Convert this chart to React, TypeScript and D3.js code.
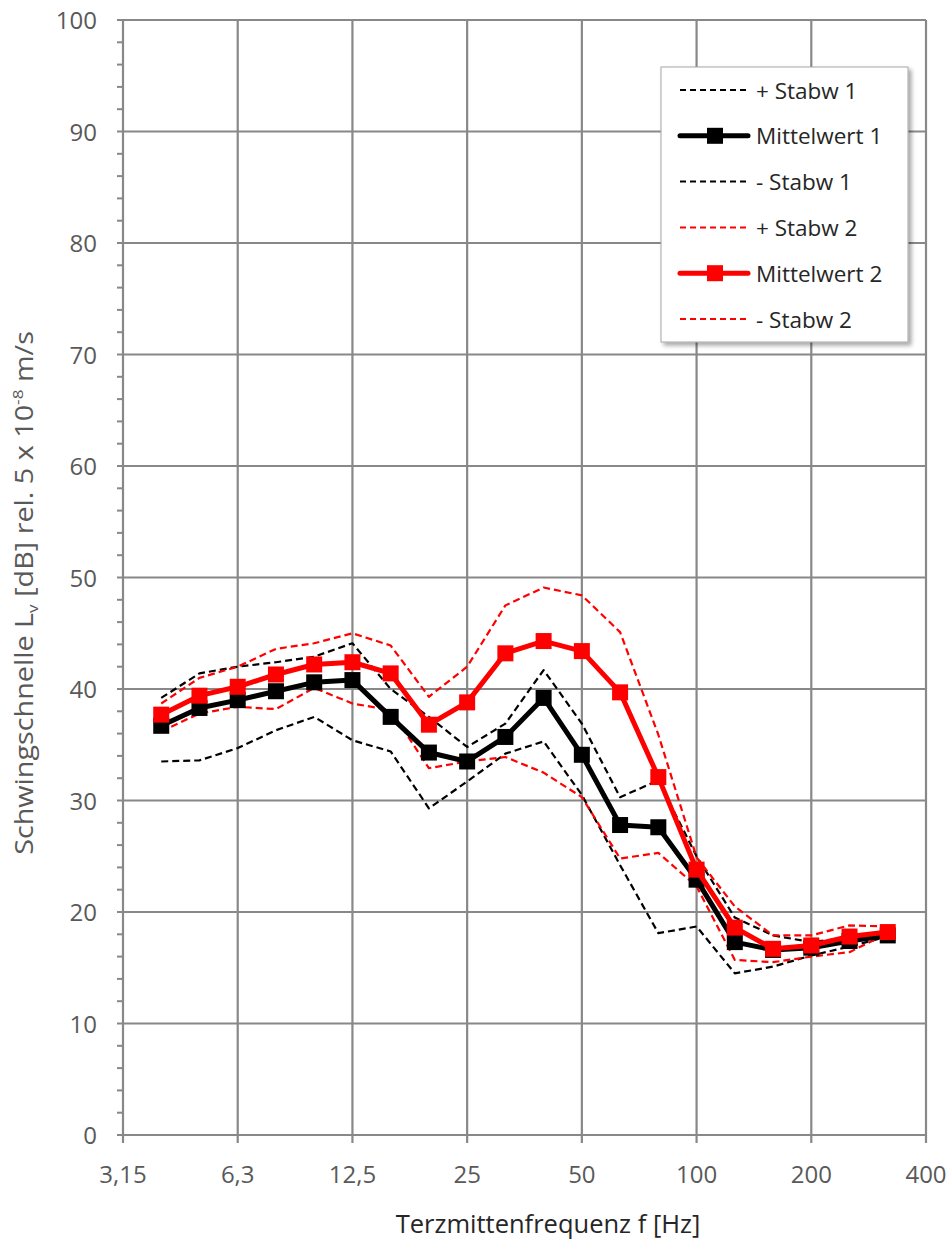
import React from "react";
import * as d3 from "d3";

const categories = ["3,15","4","5","6,3","8","10","12,5","16","20","25","31,5","40","50","63","80","100","125","160","200","250","315","400"];
const dataCategories = ["4","5","6,3","8","10","12,5","16","20","25","31,5","40","50","63","80","100","125","160","200","250","315"];
const tickLabels = ["3,15","6,3","12,5","25","50","100","200","400"];
const yTicks = [0,10,20,30,40,50,60,70,80,90,100];

const plusStabw1 = [39.2,41.4,42.0,42.4,42.9,44.1,40.0,37.5,34.8,36.9,41.7,36.9,30.3,31.8,25.0,19.5,17.9,17.3,17.7,18.1];
const mittelwert1 = [36.7,38.3,39.0,39.8,40.6,40.8,37.5,34.3,33.5,35.7,39.2,34.1,27.8,27.6,22.9,17.3,16.6,16.8,17.4,17.9];
const minusStabw1 = [33.5,33.6,34.7,36.3,37.5,35.4,34.4,29.3,31.7,34.2,35.3,30.5,24.2,18.1,18.7,14.5,15.1,16.1,16.9,17.8];
const plusStabw2 = [38.7,41.0,42.0,43.6,44.1,45.0,43.9,39.3,42.0,47.5,49.1,48.4,45.1,35.9,24.9,20.5,17.9,17.9,18.8,18.7];
const mittelwert2 = [37.7,39.4,40.2,41.3,42.2,42.4,41.4,36.8,38.8,43.2,44.3,43.4,39.7,32.1,23.8,18.6,16.7,17.0,17.8,18.2];
const minusStabw2 = [36.2,37.8,38.4,38.2,40.1,38.7,38.1,32.9,33.5,33.9,32.5,30.3,24.8,25.3,22.3,15.7,15.5,16.0,16.4,18.1];

const seriesNames = ["+ Stabw 1","Mittelwert 1","- Stabw 1","+ Stabw 2","Mittelwert 2","- Stabw 2"];
const seriesValues = [plusStabw1, mittelwert1, minusStabw1, plusStabw2, mittelwert2, minusStabw2];
const seriesColors = ["#000000","#000000","#000000","#ff0000","#ff0000","#ff0000"];
const seriesDashed = [true,false,true,true,false,true];

const W = 948, H = 1241;
const left = 123, right = 926, top = 20, bottom = 1135;
const FONT = "'Open Sans', 'Noto Sans', sans-serif";
const GRID = "#888888";

export default function App() {
  const x = d3.scalePoint<string>().domain(categories).range([left, right]).padding(0);
  const y = d3.scaleLinear().domain([0, 100]).range([bottom, top]);
  const line = d3.line<[string, number]>().x(d => x(d[0]) as number).y(d => y(d[1]));
  const minor = d3.range(0, 101, 2);

  const drawOrder = [0, 2, 3, 5, 1, 4];

  return (
    <svg width={W} height={H} style={{ position: "absolute", left: 0, top: 0, background: "#fff" }} fontFamily={FONT}>
      <defs>
        <filter id="shadow" x="-10%" y="-10%" width="130%" height="130%">
          <feDropShadow dx="3" dy="3" stdDeviation="2" floodColor="#000" floodOpacity="0.35" />
        </filter>
      </defs>
      <rect x={0} y={0} width={W} height={H} fill="#fff" />
      {yTicks.map(t => (
        <line key={"hg" + t} x1={left} x2={right} y1={y(t)} y2={y(t)} stroke={GRID} strokeWidth={2.2} />
      ))}
      {tickLabels.map(c => (
        <line key={"vg" + c} x1={x(c)} x2={x(c)} y1={top} y2={bottom + 8} stroke={GRID} strokeWidth={2.2} />
      ))}
      {minor.map(t => (
        <line key={"mt" + t} x1={left - 6} x2={left} y1={y(t)} y2={y(t)} stroke={GRID} strokeWidth={2} />
      ))}
      {yTicks.map(t => (
        <text key={"yl" + t} x={97} y={y(t) + 9} textAnchor="end" fontSize={24} fill="#595959">{t}</text>
      ))}
      {tickLabels.map(c => (
        <text key={"xl" + c} x={x(c)} y={1183} textAnchor="middle" fontSize={24} fill="#595959">{c}</text>
      ))}
      <text x={548} y={1233} textAnchor="middle" fontSize={25.5} fill="#262626">Terzmittenfrequenz f [Hz]</text>
      <text transform={`translate(33,593) rotate(-90) scale(1.15,1)`} textAnchor="middle" fontSize={25} fill="#595959">
        <tspan>Schwingschnelle L</tspan>
        <tspan fontSize={15} dy={5}>v</tspan>
        <tspan dy={-5}> [dB] rel. 5 x 10</tspan>
        <tspan fontSize={15} dy={-10}>-8</tspan>
        <tspan dy={10}> m/s</tspan>
      </text>
      {drawOrder.map(i => {
        const pts: [string, number][] = dataCategories.map((c, j) => [c, seriesValues[i][j]]);
        return (
          <g key={"s" + i}>
            <path d={line(pts) || ""} fill="none" stroke={seriesColors[i]}
              strokeWidth={seriesDashed[i] ? 2.2 : 5}
              strokeDasharray={seriesDashed[i] ? "7,4" : undefined}
              strokeLinejoin="round" />
            {!seriesDashed[i] && pts.map((p, j) => (
              <rect key={j} x={(x(p[0]) as number) - 8} y={y(p[1]) - 8} width={16} height={16} fill={seriesColors[i]} />
            ))}
          </g>
        );
      })}
      <g>
        <rect x={661} y={67} width={247} height={275} fill="#fff" stroke="#a6a6a6" strokeWidth={1} filter="url(#shadow)" />
        {seriesNames.map((n, i) => {
          const ly = 90 + i * 45.8;
          return (
            <g key={"lg" + i}>
              <line x1={680} x2={748} y1={ly} y2={ly} stroke={seriesColors[i]}
                strokeWidth={seriesDashed[i] ? 2 : 5}
                strokeDasharray={seriesDashed[i] ? "6,4" : undefined}
                strokeLinecap={seriesDashed[i] ? "butt" : "round"} />
              {!seriesDashed[i] && <rect x={707} y={ly - 8} width={16} height={16} fill={seriesColors[i]} />}
              <text x={756} y={ly + 8.5} fontSize={22.5} fill="#262626">{n}</text>
            </g>
          );
        })}
      </g>
    </svg>
  );
}
